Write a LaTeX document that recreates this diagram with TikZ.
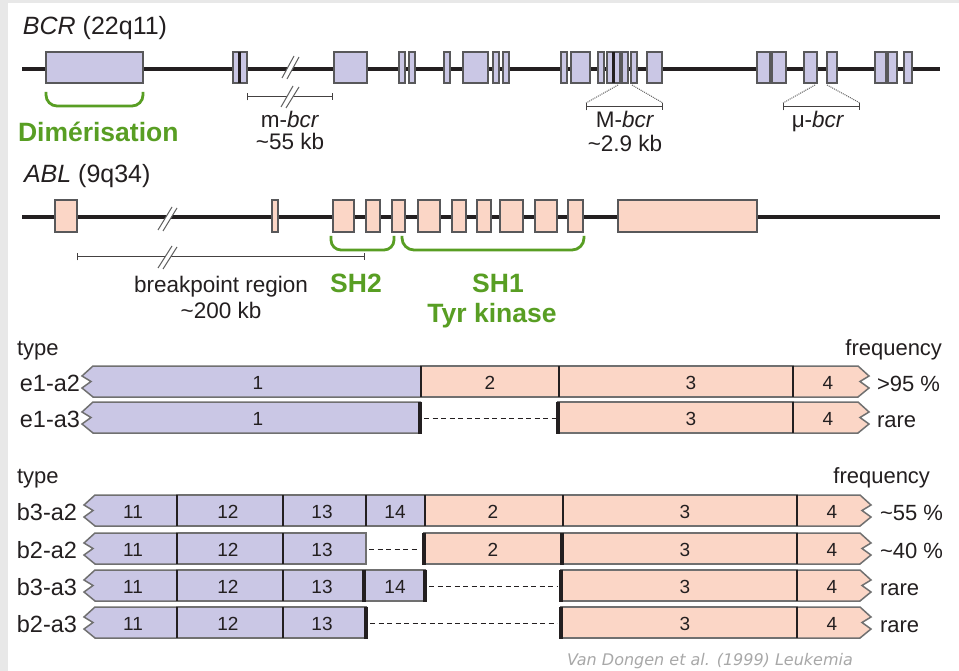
\documentclass[tikz,border=0pt]{standalone}
\usepackage{fontspec}
\setmainfont{Liberation Sans}
\newfontfamily\citefont{DejaVu Sans}
\usetikzlibrary{arrows.meta}

\definecolor{pagegray}{RGB}{232,232,232}
\definecolor{ink}{RGB}{35,31,32}
\definecolor{bcrfill}{RGB}{202,199,229}
\definecolor{ablfill}{RGB}{251,214,198}
\definecolor{edgegray}{RGB}{88,88,90}
\definecolor{bargray}{RGB}{112,112,112}
\definecolor{slashgray}{RGB}{95,95,95}
\definecolor{domgreen}{RGB}{88,158,35}
\definecolor{citegray}{RGB}{168,168,168}

\begin{document}
\begin{tikzpicture}[x=1pt,y=-1pt,
  every node/.style={inner sep=0pt, outer sep=0pt},
  geneline/.style={line width=4.5pt, draw=ink},
  bcrex/.style={fill=bcrfill, draw=edgegray, line width=1.4pt},
  ablex/.style={fill=ablfill, draw=edgegray, line width=1.4pt},
  exbreak/.style={line width=2.6pt, draw=ink},
  slashline/.style={draw=slashgray, line width=1pt},
  scalebar/.style={draw=ink!85, line width=1pt, {Bar[width=7pt]}-{Bar[width=7pt]}},
  zoomline/.style={draw=slashgray, line width=1pt, densely dotted},
  bracket/.style={draw=domgreen, line width=2.8pt, rounded corners=11pt},
  domtxt/.style={text=domgreen, font=\fontsize{26.5}{30}\selectfont\bfseries},
  lbl/.style={text=ink, font=\fontsize{22.5}{26}\selectfont},
  genelbl/.style={text=ink, font=\fontsize{25}{28}\selectfont},
  headlbl/.style={text=ink, font=\fontsize{22}{25}\selectfont},
  rowlbl/.style={text=ink, font=\fontsize{23.5}{26}\selectfont},
  freqlbl/.style={text=ink, font=\fontsize{22}{25}\selectfont},
  num/.style={text=ink, font=\fontsize{19}{22}\selectfont, anchor=base},
  bseg/.style={fill=bcrfill, draw=bargray, line width=1.5pt},
  pseg/.style={fill=ablfill, draw=bargray, line width=1.5pt},
  divider/.style={draw=ink, line width=2.6pt},
  endcap/.style={draw=ink, line width=4pt},
  gapline/.style={draw=ink, line width=1pt, dash pattern=on 5pt off 3.5pt},
]
\useasboundingbox (0,0) rectangle (959,671);
\fill[pagegray] (0,0) rectangle (959,671);
\fill[white] (8,3) rectangle (959,671);

% ---------------- BCR gene ----------------
\node[genelbl, anchor=base west] (bcrname) at (23,35) {\textit{BCR} (22q11)};
\draw[geneline] (22,69) -- (940,69);
\foreach \a/\b in {46/143, 233/239.5, 239.5/247, 334/367, 399/405, 409/415,
  444/450, 463/488, 493/499, 503/509, 561/567, 571/590, 598/604, 607/613.5,
  613.5/620, 622/628, 631/637, 647/662, 757/770, 772/786, 804/817, 827/837,
  875/886, 888/897, 904/912}
  \draw[bcrex] (\a,52) rectangle (\b,83);
\draw[exbreak] (239.5,52) -- (239.5,83);
\draw[exbreak] (613.5,52) -- (613.5,83);
% cut in the intron
\fill[white] (282,78) -- (294,56) -- (299,57) -- (287,79) -- cycle;
\draw[slashline] (282,78) -- (294,56);
\draw[slashline] (287,79) -- (299,57);

% m-bcr
\draw[scalebar] (247,97) -- (333,97);
\fill[white] (281,107) -- (293,86) -- (299,87) -- (286,108) -- cycle;
\draw[slashline] (281,107) -- (293,86);
\draw[slashline] (286,108) -- (299,87);
\node[lbl, anchor=base] (mbcr) at (290,128) {m-\textit{bcr}};
\node[lbl, anchor=base] (mbcrsize) at (290,150) {\textasciitilde55 kb};

% M-bcr
\draw[zoomline] (618,85) -- (586,103);
\draw[zoomline] (632,85) -- (663,103);
\draw[scalebar] (586,107) -- (663,107);
\node[lbl, anchor=base] (Mbcr) at (625,128) {M-\textit{bcr}};
\node[lbl, anchor=base] (Mbcrsize) at (625,152) {\textasciitilde2.9 kb};

% mu-bcr
\draw[zoomline] (815,85) -- (783,103);
\draw[zoomline] (827,85) -- (860,103);
\draw[scalebar] (783,107) -- (860,107);
\node[lbl, anchor=base] (mubcr) at (818,128) {μ-\textit{bcr}};

% dimerisation domain
\draw[bracket] (46,92) -- (46,106) -- (143,106) -- (143,92);
\node[domtxt, anchor=base west] (dimer) at (18,142) {Dimérisation};

% ---------------- ABL gene ----------------
\node[genelbl, anchor=base west] (ablname) at (24,183) {\textit{ABL} (9q34)};
\draw[geneline] (22,217) -- (940,217);
\foreach \a/\b in {55/77, 272/278, 333/354, 366/380, 392/405, 418/440,
  452/466, 477/491, 500/523, 535/557, 568/583, 618/757}
  \draw[ablex] (\a,200) rectangle (\b,232);
\fill[white] (158,230) -- (172,207) -- (177,208) -- (163,231) -- cycle;
\draw[slashline] (158,230) -- (172,207);
\draw[slashline] (163,231) -- (177,208);

% breakpoint region
\draw[scalebar] (77,257) -- (365,257);
\fill[white] (158,268) -- (172,246) -- (177,247) -- (163,269) -- cycle;
\draw[slashline] (158,268) -- (172,246);
\draw[slashline] (163,269) -- (177,247);
\node[lbl, anchor=base] (bpr) at (221,293) {breakpoint region};
\node[lbl, anchor=base] (bprsize) at (221,318) {\textasciitilde200 kb};

% SH2 / SH1 domains
\draw[bracket, rounded corners=10pt] (331,236) -- (331,250) -- (394,250) -- (394,236);
\draw[bracket, rounded corners=12pt] (402,236) -- (402,250) -- (584,250) -- (584,236);
\node[domtxt, anchor=base] (sh2) at (356,293) {SH2};
\node[domtxt, anchor=base] (sh1) at (498,293) {SH1};
\node[domtxt, anchor=base] (tyrk) at (492,322) {Tyr kinase};

% ---------------- e1 fusions ----------------
\node[headlbl, anchor=base west] (type1) at (17,355) {type};
\node[headlbl, anchor=base east] (freq1) at (942,355) {frequency};

\begin{scope}[shift={(0,366)}]
  \filldraw[bseg] (421,0) -- (93,0) -- (82,10) -- (91,15.5) -- (82,22) -- (93,31) -- (421,31) -- cycle;
  \filldraw[pseg] (421,0) rectangle (559,31);
  \filldraw[pseg] (559,0) rectangle (793,31);
  \filldraw[pseg] (793,0) -- (858,0) -- (869,10) -- (860,15.5) -- (869,22) -- (858,31) -- (793,31) -- cycle;
  \foreach \x in {421,559,793} \draw[divider] (\x,0) -- (\x,31);
  \node[num] (ea1) at (258,23) {1};
  \node[num] (ea2) at (490,23) {2};
  \node[num] (ea3) at (691,23) {3};
  \node[num] (ea4) at (828,23) {4};
  \node[rowlbl, anchor=base east] (e1a2) at (80,25) {e1-a2};
  \node[freqlbl, anchor=base west] (fe1a2) at (877,25) {>95 \%};
\end{scope}

\begin{scope}[shift={(0,402)}]
  \filldraw[bseg] (420,0) -- (93,0) -- (82,10) -- (91,15.5) -- (82,22) -- (93,31) -- (420,31) -- cycle;
  \filldraw[pseg] (558,0) rectangle (793,31);
  \filldraw[pseg] (793,0) -- (858,0) -- (869,10) -- (860,15.5) -- (869,22) -- (858,31) -- (793,31) -- cycle;
  \draw[endcap] (420,-0.5) -- (420,32);
  \draw[gapline] (424,16) -- (556,16);
  \draw[endcap] (558,-0.5) -- (558,32);
  \draw[divider] (793,0) -- (793,31);
  \node[num] (eb1) at (258,23) {1};
  \node[num] (eb3) at (691,23) {3};
  \node[num] (eb4) at (828,23) {4};
  \node[rowlbl, anchor=base east] (e1a3) at (80,25) {e1-a3};
  \node[freqlbl, anchor=base west] (fe1a3) at (877,25) {rare};
\end{scope}

% ---------------- b2/b3 fusions ----------------
\node[headlbl, anchor=base west] (type2) at (17,483) {type};
\node[headlbl, anchor=base east] (freq2) at (930,483) {frequency};

% b3-a2
\begin{scope}[shift={(0,495)}]
  \filldraw[bseg] (177,0) -- (95,0) -- (84,10) -- (93,15.5) -- (84,22) -- (95,31) -- (177,31) -- cycle;
  \filldraw[bseg] (177,0) rectangle (283,31);
  \filldraw[bseg] (283,0) rectangle (366,31);
  \filldraw[bseg] (366,0) rectangle (425,31);
  \filldraw[pseg] (425,0) rectangle (563,31);
  \filldraw[pseg] (563,0) rectangle (797,31);
  \filldraw[pseg] (797,0) -- (860,0) -- (871,10) -- (862,15.5) -- (871,22) -- (860,31) -- (797,31) -- cycle;
  \foreach \x in {177,283,366,425,563,797} \draw[divider] (\x,0) -- (\x,31);
  \node[num] (ba11) at (133,23) {11};
  \node[num] (ba12) at (228,23) {12};
  \node[num] (ba13) at (322,23) {13};
  \node[num] (ba14) at (395,23) {14};
  \node[num] (ba2) at (493,23) {2};
  \node[num] (ba3) at (685,23) {3};
  \node[num] (ba4) at (832,23) {4};
  \node[rowlbl, anchor=base east] (b3a2) at (77,25) {b3-a2};
  \node[freqlbl, anchor=base west] (fb3a2) at (880,25) {\textasciitilde55 \%};
\end{scope}

% b2-a2
\begin{scope}[shift={(0,533)}]
  \filldraw[bseg] (177,0) -- (95,0) -- (84,10) -- (93,15.5) -- (84,22) -- (95,31) -- (177,31) -- cycle;
  \filldraw[bseg] (177,0) rectangle (283,31);
  \filldraw[bseg] (283,0) rectangle (366,31);
  \filldraw[pseg] (424,0) rectangle (562,31);
  \filldraw[pseg] (562,0) rectangle (797,31);
  \filldraw[pseg] (797,0) -- (860,0) -- (871,10) -- (862,15.5) -- (871,22) -- (860,31) -- (797,31) -- cycle;
  \foreach \x in {177,283,797} \draw[divider] (\x,0) -- (\x,31);
  \draw[gapline] (369,16) -- (419,16);
  \draw[endcap] (424,-0.5) -- (424,32);
  \draw[endcap] (562,-0.5) -- (562,32);
  \node[num] (bb11) at (133,23) {11};
  \node[num] (bb12) at (228,23) {12};
  \node[num] (bb13) at (322,23) {13};
  \node[num] (bb2) at (493,23) {2};
  \node[num] (bb3) at (685,23) {3};
  \node[num] (bb4) at (832,23) {4};
  \node[rowlbl, anchor=base east] (b2a2) at (77,25) {b2-a2};
  \node[freqlbl, anchor=base west] (fb2a2) at (880,25) {\textasciitilde40 \%};
\end{scope}

% b3-a3
\begin{scope}[shift={(0,570)}]
  \filldraw[bseg] (177,0) -- (95,0) -- (84,10) -- (93,15.5) -- (84,22) -- (95,31) -- (177,31) -- cycle;
  \filldraw[bseg] (177,0) rectangle (283,31);
  \filldraw[bseg] (283,0) rectangle (364,31);
  \filldraw[bseg] (364,0) rectangle (425,31);
  \filldraw[pseg] (561,0) rectangle (797,31);
  \filldraw[pseg] (797,0) -- (860,0) -- (871,10) -- (862,15.5) -- (871,22) -- (860,31) -- (797,31) -- cycle;
  \foreach \x in {177,283,797} \draw[divider] (\x,0) -- (\x,31);
  \draw[endcap] (364,-0.5) -- (364,32);
  \draw[endcap] (425,-0.5) -- (425,32);
  \draw[gapline] (429,16) -- (557,16);
  \draw[endcap] (561,-0.5) -- (561,32);
  \node[num] (bc11) at (133,23) {11};
  \node[num] (bc12) at (228,23) {12};
  \node[num] (bc13) at (322,23) {13};
  \node[num] (bc14) at (395,23) {14};
  \node[num] (bc3) at (685,23) {3};
  \node[num] (bc4) at (832,23) {4};
  \node[rowlbl, anchor=base east] (b3a3) at (77,25) {b3-a3};
  \node[freqlbl, anchor=base west] (fb3a3) at (880,25) {rare};
\end{scope}

% b2-a3
\begin{scope}[shift={(0,607)}]
  \filldraw[bseg] (177,0) -- (95,0) -- (84,10) -- (93,15.5) -- (84,22) -- (95,31) -- (177,31) -- cycle;
  \filldraw[bseg] (177,0) rectangle (283,31);
  \filldraw[bseg] (283,0) rectangle (366,31);
  \filldraw[pseg] (561,0) rectangle (797,31);
  \filldraw[pseg] (797,0) -- (860,0) -- (871,10) -- (862,15.5) -- (871,22) -- (860,31) -- (797,31) -- cycle;
  \foreach \x in {177,283,797} \draw[divider] (\x,0) -- (\x,31);
  \draw[endcap] (366,-0.5) -- (366,32);
  \draw[gapline] (370,16) -- (557,16);
  \draw[endcap] (561,-0.5) -- (561,32);
  \node[num] (bd11) at (133,23) {11};
  \node[num] (bd12) at (228,23) {12};
  \node[num] (bd13) at (322,23) {13};
  \node[num] (bd3) at (685,23) {3};
  \node[num] (bd4) at (832,23) {4};
  \node[rowlbl, anchor=base east] (b2a3) at (77,25) {b2-a3};
  \node[freqlbl, anchor=base west] (fb2a3) at (880,25) {rare};
\end{scope}

\node[anchor=base west, text=citegray, font=\citefont\itshape\fontsize{16}{19}\selectfont] (cite) at (567,665) {Van Dongen et al. (1999) Leukemia};
\end{tikzpicture}
\end{document}
